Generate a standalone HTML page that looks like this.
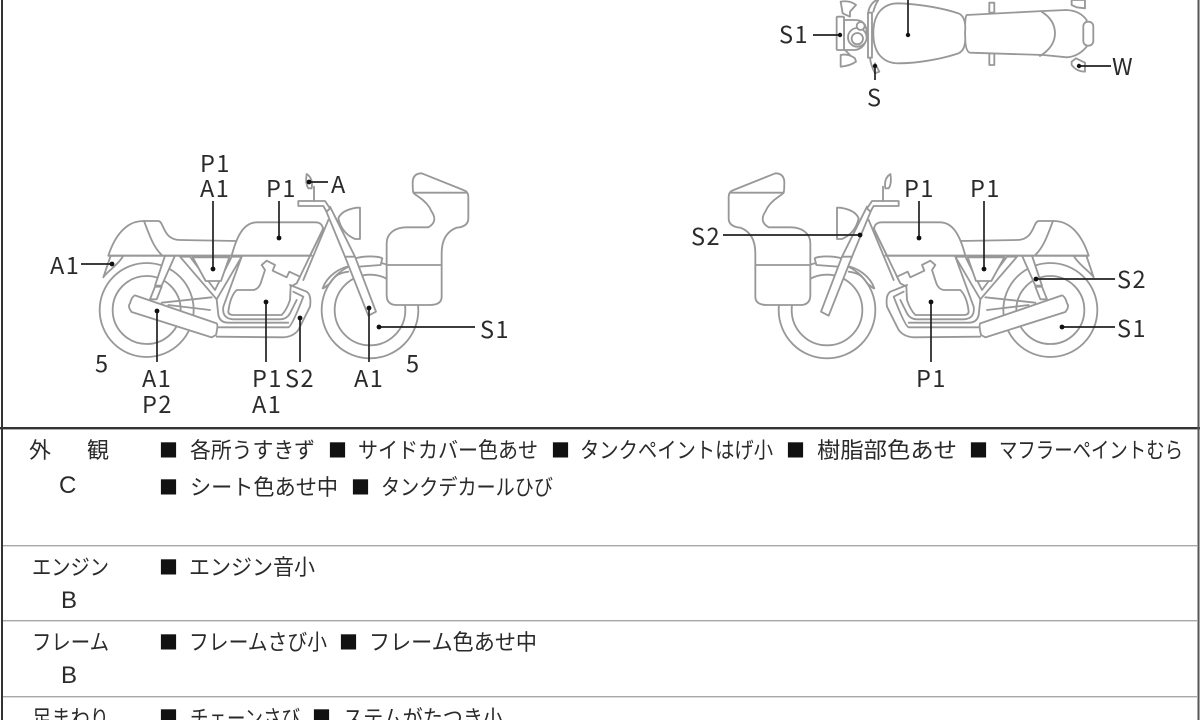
<!DOCTYPE html>
<html><head><meta charset="utf-8"><style>
html,body{margin:0;padding:0;background:#fff;width:1200px;height:720px;overflow:hidden}
svg{display:block}
.l{font-family:"Noto Sans CJK JP","Liberation Sans",sans-serif;font-size:23.5px;fill:#2a2a2a;letter-spacing:1.5px}
.t{font-family:"Liberation Sans","Noto Sans CJK JP",sans-serif;font-size:22px;fill:#2a2a2a}
.b{font-family:"Noto Sans CJK JP",sans-serif;font-size:19px;fill:#111}
.g{fill:#fff;stroke:#989898;stroke-width:5.5;stroke-linejoin:round;stroke-linecap:round}
.n{fill:none}
.k{stroke:#222;stroke-width:1.7;fill:none}
.d{fill:#111}
</style></head><body>
<svg width="1200" height="720" viewBox="0 0 1200 720" xmlns="http://www.w3.org/2000/svg">
<defs>
<g id="bike" class="g">
<circle cx="320" cy="510" r="141"/><circle cx="320" cy="510" r="102"/>
<circle cx="990" cy="510" r="145"/><circle cx="990" cy="510" r="106"/>
<path d="M190 412C200 395 235 375 250 347L212 347Z"/>
<path d="M375 347L405 347L365 437L345 437ZM345 440L365 440L350 478L330 478Z"/>
<path class="n" d="M365 488L515 472M385 495L510 510"/>
<path d="M420 350L450 350L525 450L575 350L605 350L530 478Z"/>
<path d="M458 352L568 352L543 423L497 423Z"/>
<path d="M205 347C225 285 260 243 310 243L355 243C372 243 368 300 420 300L590 303L575 347Z"/>
<path class="n" d="M312 243C330 290 340 320 365 345"/>
<path d="M575 347C590 290 610 248 650 247L825 247C845 247 850 260 848 270L810 347Z"/>
<path class="n" d="M205 347H815"/>
<path class="n" d="M865 240L790 420M850 265L775 420"/>
<path class="n" d="M605 350L550 500Q545 536 580 538L720 538Q740 538 750 520L770 480"/>
<path class="n" d="M530 478L535 525Q540 548 565 548L745 548"/>
<path d="M565 515Q570 470 590 450L640 450Q655 448 662 430L675 390L665 375L680 362L705 375L698 392L740 412L748 395L780 410L770 430L752 440L750 480Q740 510 725 525H580Q565 525 565 515Z"/>
<path class="n" d="M530 562L745 562Q755 560 790 470L760 455"/>
<path class="n" d="M530 590L730 592Q760 590 775 570L810 500Q815 465 800 455L750 435"/>
<path d="M285 466L530 550Q535 555 528 585L515 592L275 516Q262 500 270 490Q275 470 285 466Z"/>
<path class="n" d="M848 445C860 410 900 380 935 378M850 445L870 430C885 405 900 398 925 395"/>
<path d="M945 355C980 345 1020 350 1027 355L1022 375L955 380Z"/>
<path class="n" d="M855 205L915 350M870 200L945 350"/>
<path d="M895 235Q905 210 950 203H960V297H945Q905 280 895 235Z"/>
<path d="M915 350L945 350L1008 515L985 527Z"/>
<path d="M775 183H855L870 205L860 215L850 198H775Z"/>
<path class="n" d="M822 183V140M805 145Q795 130 800 102Q820 115 815 145Z"/>
<path d="M1120 158Q1118 150 1118 125Q1120 100 1145 100L1270 150Q1285 155 1285 170V235Q1285 260 1250 263Q1205 280 1205 340V470Q1205 495 1170 495H1070Q1040 495 1040 465V310C1040 280 1065 262 1100 262H1165Q1195 245 1175 215Q1165 190 1135 170Q1120 160 1120 158Z"/>
<path class="n" d="M1040 375H1205M1120 158H1280"/>
</g>
</defs>

<!-- top view -->
<g transform="translate(770,0) scale(.3333)" class="g">
<path d="M212 5Q240 0 258 15L240 35V50L218 40Z"/>
<path d="M225 150L240 165M212 200V165Q235 160 255 175L258 185Q240 198 212 200Z"/>
<path d="M222 60L255 60Q290 60 290 100Q290 145 255 150L222 150Z"/>
<rect x="200" y="50" width="22" height="100" rx="3"/>
<path class="n" d="M300 170Q300 190 315 220L328 215L315 190"/>
<circle cx="262" cy="112" r="28"/><circle cx="262" cy="116" r="17"/><circle cx="272" cy="78" r="12"/>
<rect x="294" y="38" width="12" height="135"/>
<path class="n" d="M295 35Q300 10 320 0M310 35Q315 15 325 0"/>
<rect x="658" y="8" width="15" height="30"/><rect x="658" y="160" width="15" height="35"/>
<path d="M905 0V15L920 22L945 25V0Z"/><path d="M905 185L918 175L945 188V215Q920 215 905 195Z"/>
<path d="M590 45L820 33L890 30Q930 32 950 60Q945 100 950 140Q925 170 890 172L820 165L600 158Q585 155 585 100Q585 50 590 45Z"/>
<path class="n" d="M815 35Q855 60 855 100Q855 140 810 168"/>
<rect x="940" y="65" width="30" height="72" rx="14"/>
<path d="M310 100C310 40 340 10 385 10C450 12 520 25 565 40Q590 50 585 100Q590 150 565 160C520 175 450 190 385 190C340 190 310 160 310 100Z"/>
</g>
<g class="k">
<path d="M813 35H840M908 0V35M875 65V80M1079 66H1111"/>
</g>
<g class="d"><circle cx="840" cy="35" r="2.2"/><circle cx="908" cy="35" r="2.2"/><circle cx="875" cy="66" r="2.2"/><circle cx="1079" cy="66" r="2.2"/></g>
<text class="l" x="779" y="43">S1</text><text class="l" x="867" y="106">S</text><text class="l" x="1112" y="75">W</text>

<!-- bikes -->
<use href="#bike" transform="translate(40,140) scale(.33333)"/>
<use href="#bike" transform="translate(1157,140) scale(-.33333,.33333)"/>

<g class="k">
<path d="M81 264H112M213 201V269M279 201V238M309 182H328M157 311V362M266 302V362M300 318V362M369 308V362M379 327H475"/>
<path d="M723 235H860M919 201V238M984 201V269M1036 279H1115M1062 327H1115M931 302V362"/>
</g>
<g class="d">
<circle cx="112" cy="264" r="2.4"/><circle cx="213" cy="269" r="2.4"/><circle cx="279" cy="238" r="2.4"/><circle cx="309" cy="182" r="2.4"/><circle cx="157" cy="311" r="2.4"/><circle cx="266" cy="302" r="2.4"/><circle cx="300" cy="318" r="2.4"/><circle cx="369" cy="308" r="2.4"/><circle cx="379" cy="327" r="2.4"/>
<circle cx="860" cy="235" r="2.4"/><circle cx="919" cy="238" r="2.4"/><circle cx="984" cy="269" r="2.4"/><circle cx="1036" cy="279" r="2.4"/><circle cx="1062" cy="327" r="2.4"/><circle cx="931" cy="302" r="2.4"/>
</g>
<text class="l" x="200" y="172">P1</text><text class="l" x="200" y="197">A1</text><text class="l" x="266" y="197">P1</text><text class="l" x="331" y="193">A</text>
<text class="l" x="50" y="274">A1</text><text class="l" x="95" y="372">5</text><text class="l" x="406" y="372">5</text>
<text class="l" x="142" y="387">A1</text><text class="l" x="142" y="413">P2</text><text class="l" x="252" y="387">P1</text><text class="l" x="285" y="387">S2</text><text class="l" x="252" y="413">A1</text><text class="l" x="354" y="387">A1</text><text class="l" x="480" y="338">S1</text>
<text class="l" x="691" y="245">S2</text><text class="l" x="904" y="197">P1</text><text class="l" x="970" y="197">P1</text><text class="l" x="1117" y="288">S2</text><text class="l" x="1117" y="337">S1</text><text class="l" x="916" y="387">P1</text>

<!-- table -->
<rect x="0" y="427" width="1200" height="2.4" fill="#333"/>
<rect x="1" y="0" width="2" height="720" fill="#333"/>
<rect x="1197.5" y="0" width="2" height="720" fill="#555"/>
<rect x="3" y="545" width="1195" height="1.4" fill="#a8a8a8"/>
<rect x="3" y="620" width="1195" height="1.4" fill="#a8a8a8"/>
<rect x="3" y="696" width="1195" height="1.4" fill="#a8a8a8"/>

<text class="t" x="29" y="458">外</text><text class="t" x="87" y="458">観</text><text class="t" x="59" y="493" style="font-size:24px">C</text>
<text class="t" x="32" y="575" textLength="77" lengthAdjust="spacingAndGlyphs">エンジン</text><text class="t" x="61" y="608" style="font-size:24px">B</text>
<text class="t" x="32" y="650" textLength="77" lengthAdjust="spacingAndGlyphs">フレーム</text><text class="t" x="61" y="683" style="font-size:24px">B</text>
<text class="t" x="32" y="726" textLength="77" lengthAdjust="spacingAndGlyphs">足まわり</text>

<g class="b">
<text x="159" y="457">■</text><text x="328" y="457">■</text><text x="551" y="457">■</text><text x="786" y="457">■</text><text x="969" y="457">■</text>
<text x="159" y="494">■</text><text x="351" y="494">■</text>
<text x="159" y="574">■</text>
<text x="159" y="649">■</text><text x="339" y="649">■</text>
<text x="159" y="724">■</text><text x="312" y="724">■</text>
</g>
<text class="t" x="190" y="458" textLength="125" lengthAdjust="spacingAndGlyphs">各所うすきず</text>
<text class="t" x="358" y="458" textLength="180" lengthAdjust="spacingAndGlyphs">サイドカバー色あせ</text>
<text class="t" x="580" y="458" textLength="193" lengthAdjust="spacingAndGlyphs">タンクペイントはげ小</text>
<text class="t" x="817" y="458" textLength="140" lengthAdjust="spacingAndGlyphs">樹脂部色あせ</text>
<text class="t" x="999" y="458" textLength="184" lengthAdjust="spacingAndGlyphs">マフラーペイントむら</text>
<text class="t" x="190" y="495" textLength="148" lengthAdjust="spacingAndGlyphs">シート色あせ中</text>
<text class="t" x="381" y="495" textLength="172" lengthAdjust="spacingAndGlyphs">タンクデカールひび</text>
<text class="t" x="189" y="575" textLength="126" lengthAdjust="spacingAndGlyphs">エンジン音小</text>
<text class="t" x="189" y="650" textLength="138" lengthAdjust="spacingAndGlyphs">フレームさび小</text>
<text class="t" x="369" y="650" textLength="168" lengthAdjust="spacingAndGlyphs">フレーム色あせ中</text>
<text class="t" x="190" y="726" textLength="110" lengthAdjust="spacingAndGlyphs">チェーンさび</text>
<text class="t" x="343" y="726" textLength="160" lengthAdjust="spacingAndGlyphs">ステムがたつき小</text>
</svg>
</body></html>
